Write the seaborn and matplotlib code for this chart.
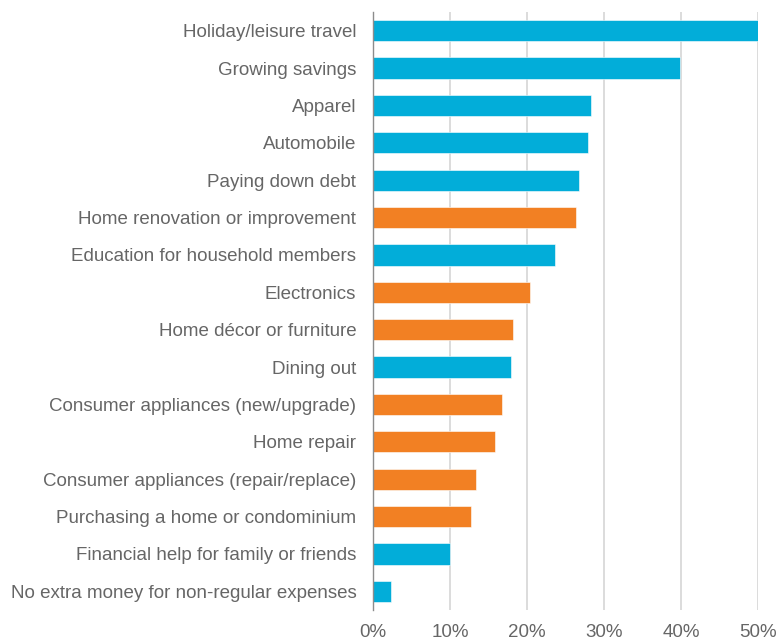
import matplotlib
matplotlib.use("Agg")
import matplotlib.pyplot as plt
import seaborn as sns
import pandas as pd
from matplotlib.ticker import FuncFormatter

categories = [
    "Holiday/leisure travel",
    "Growing savings",
    "Apparel",
    "Automobile",
    "Paying down debt",
    "Home renovation or improvement",
    "Education for household members",
    "Electronics",
    "Home décor or furniture",
    "Dining out",
    "Consumer appliances (new/upgrade)",
    "Home repair",
    "Consumer appliances (repair/replace)",
    "Purchasing a home or condominium",
    "Financial help for family or friends",
    "No extra money for non-regular expenses",
]
values = [50.1, 39.9, 28.3, 27.9, 26.8, 26.3, 23.7, 20.4, 18.2, 17.9, 16.8, 15.8, 13.4, 12.7, 10.0, 2.3]
groups = ["other", "other", "other", "other", "other", "home", "other", "home", "home",
          "other", "home", "home", "home", "home", "other", "other"]
xticks = [0, 10, 20, 30, 40, 50]

palette = {"other": "#02ADD9", "home": "#F28023"}

df = pd.DataFrame({"category": categories, "value": values, "group": groups})

sns.set_style("white")
plt.rcParams["font.family"] = ["Liberation Sans", "DejaVu Sans"]

fig = plt.figure(figsize=(7.76, 6.41), dpi=100)
ax = fig.add_axes([373 / 776, 1 - 610 / 641, (758 - 373) / 776, (610 - 12) / 641])

sns.barplot(data=df, x="value", y="category", hue="group", palette=palette,
            dodge=False, legend=False, width=0.57, ax=ax, orient="h", saturation=1)
for p in ax.patches:
    p.set_edgecolor("white")
    p.set_linewidth(0.4)

ax.set_xlim(0, 50)
ax.set_ylim(len(categories) - 0.5, -0.5)
ax.set_xticks(xticks)
ax.xaxis.set_major_formatter(FuncFormatter(lambda v, _: f"{v:.0f}%"))
ax.grid(axis="x", color="#D9D9D9", linewidth=1.3)
ax.set_axisbelow(True)
ax.set_xlabel("")
ax.set_ylabel("")
for s in ["top", "right", "bottom"]:
    ax.spines[s].set_visible(False)
ax.spines["left"].set_color("#8C8C8C")
ax.spines["left"].set_linewidth(1.0)
ax.tick_params(axis="y", length=0, pad=12, labelsize=13.5, labelcolor="#666666")
ax.tick_params(axis="x", length=0, pad=10, labelsize=13.5, labelcolor="#666666")

fig.savefig("out.png", dpi=100)
